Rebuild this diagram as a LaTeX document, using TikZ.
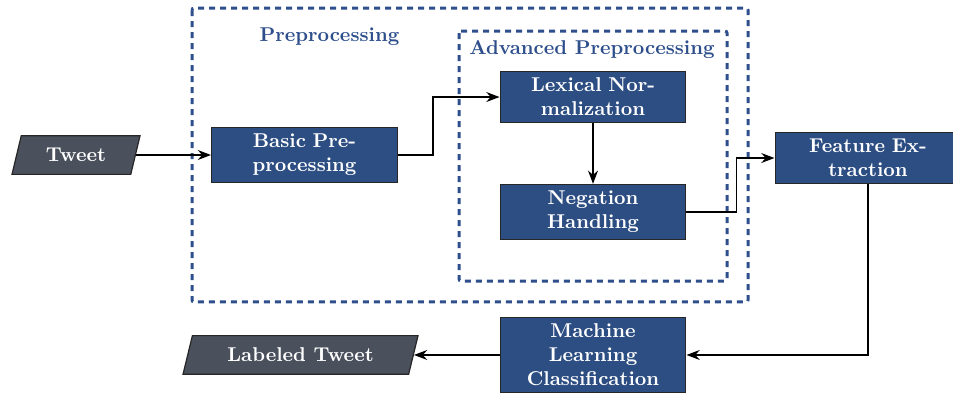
\documentclass[tikz,border=0pt]{standalone}
\usepackage{tikz}
\usetikzlibrary{shapes.geometric, arrows.meta, positioning}
\definecolor{procblue}{RGB}{45,78,130}
\definecolor{dataslate}{RGB}{74,80,92}
\definecolor{groupblue}{RGB}{46,79,140}

\begin{document}
\begin{tikzpicture}[>=Stealth, thick,
    proc/.style={draw=black!85, semithick, fill=procblue, text=white, font=\bfseries, text width=3.03cm, align=center},
    data/.style={draw=black!85, semithick, fill=dataslate, text=white, font=\bfseries, trapezium, trapezium left angle=71, trapezium right angle=109, trapezium stretches body, minimum height=0.68cm},
    group/.style={draw=groupblue, line width=1.5pt, dash pattern=on 3pt off 2.5pt, rounded corners=1pt},
    grouplabel/.style={text=groupblue, font=\bfseries}]
    \useasboundingbox (0,0) rectangle (16.747,-6.924);

    % preprocessing frames
    \draw[group] (3.374,-0.141) rectangle (13.145,-5.307);
    \draw[group] (8.066,-0.545) rectangle (12.776,-4.938);
    \node[grouplabel] (prelbl) at (5.790,-0.650) {Preprocessing};
    \node[grouplabel] (advlbl) at (10.403,-0.879) {Advanced Preprocessing};

    % input, steps and output
    \node[data, minimum width=2.25cm] (tweet) at (1.336,-2.724) {Tweet};
    \node[proc] (basic) at (5.351,-2.724) {Basic Preprocessing};
    \node[proc] (lexnorm) at (10.421,-1.705) {Lexical Normalization};
    \node[proc] (neg) at (10.421,-3.725) {Negation Handling};
    \node[proc] (feat) at (15.253,-2.777) {Feature Extraction};
    \node[proc] (mlclass) at (10.421,-6.238) {Machine\\ Learning\\ Classification};
    \node[data, minimum width=4.13cm] (labeled) at (5.281,-6.238) {Labeled Tweet};

    \draw[->] (tweet.east) -- (basic.west);
    \draw[->] (basic.east) -- ++(0.615,0) |- (lexnorm.west);
    \draw[->] (lexnorm) -- (neg);
    \draw[->] (neg.east) -- ++(0.879,0) |- (feat.west);
    \draw[->] (feat.south) |- (mlclass.east);
    \draw[->] (mlclass.west) -- (labeled.east);
\end{tikzpicture}
\end{document}
